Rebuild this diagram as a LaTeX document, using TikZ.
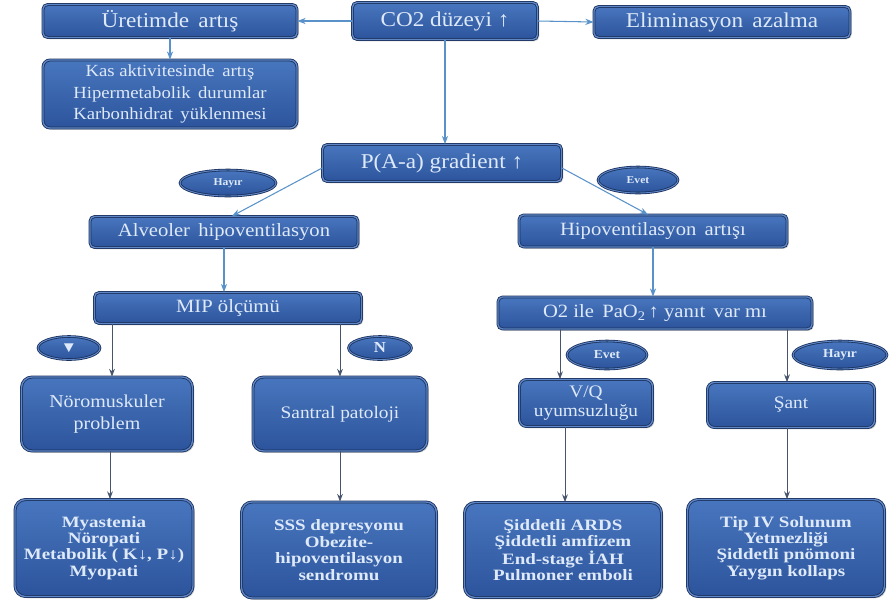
\documentclass[tikz,border=0pt]{standalone}
\usepackage{fontspec}
\setmainfont{Liberation Serif}[FakeStretch=1.1]
\newfontfamily\listfont{Liberation Serif}[FakeStretch=1.2]
\usetikzlibrary{shapes.geometric,calc,shadows,arrows.meta}

\definecolor{boxtop}{RGB}{72,118,190}
\definecolor{boxbot}{RGB}{44,84,156}
\definecolor{boxedge}{RGB}{26,48,92}
\definecolor{boxrim}{RGB}{96,136,200}
\definecolor{boxtext}{RGB}{222,233,249}
\definecolor{linkblue}{RGB}{88,146,200}
\definecolor{linkgray}{RGB}{70,84,108}

\begin{document}
\begin{tikzpicture}[x=0.03cm,y=-0.03cm,>=Stealth,
  box/.style={draw=boxedge,line width=.7pt,double=boxrim,double distance=1.1pt,
    rounded corners=4pt,
    top color=boxtop,bottom color=boxbot,text=boxtext,
    inner sep=0pt,align=center,
    drop shadow={opacity=.35,shadow xshift=1.5pt,shadow yshift=-1.5pt}},
  bigbox/.style={box,rounded corners=9pt},
  tag/.style={ellipse,draw=boxedge,line width=.7pt,double=boxrim,double distance=.8pt,
    inner sep=0pt,
    top color=boxtop,bottom color=boxbot,text=boxtext,
    font=\bfseries\fontsize{9}{10}\selectfont},
  link/.style={->,draw=linkblue,line width=.9pt},
  linkdark/.style={->,draw=linkgray,line width=.8pt}]
  \useasboundingbox (0,0) rectangle (895,603);

  % top row
  \node[box,minimum width=5.55cm,minimum height=1.11cm,
    font=\fontsize{18}{20}\selectfont] (co2) at (445,21) {CO2 düzeyi ↑};
  \node[box,minimum width=7.62cm,minimum height=.99cm,
    font=\fontsize{18}{20}\selectfont] (uret) at (170,21) {Üretimde\, artış};
  \node[box,minimum width=7.68cm,minimum height=.93cm,
    font=\fontsize{18}{20}\selectfont] (elim) at (722,22) {Eliminasyon\, azalma};
  \node[bigbox,rounded corners=6pt,minimum width=7.62cm,minimum height=2.04cm,
    font=\fontsize{14.5}{18.5}\selectfont] (kas) at (170,94)
    {Kas aktivitesinde\, artış\\Hipermetabolik\, durumlar\\Karbonhidrat\, yüklenmesi};

  % gradient
  \node[box,minimum width=7.17cm,minimum height=1.11cm,
    font=\fontsize{18}{20}\selectfont] (grad) at (442,163) {P(A-a) gradient ↑};
  \node[tag,minimum width=2.88cm,minimum height=.78cm] (hayir1) at (228,183) {Hayır};
  \node[tag,minimum width=2.4cm,minimum height=.78cm] (evet1) at (638,180) {Evet};

  \node[box,minimum width=8.04cm,minimum height=.93cm,
    font=\fontsize{16}{18}\selectfont] (alv) at (224,232) {Alveoler\, hipoventilasyon};
  \node[box,minimum width=8.04cm,minimum height=.96cm,
    font=\fontsize{16}{18}\selectfont] (hipo) at (653,231) {Hipoventilasyon\, artışı};
  \node[box,minimum width=8.01cm,minimum height=.93cm,
    font=\fontsize{16}{18}\selectfont] (mip) at (228,308) {MIP ölçümü};
  \node[box,minimum width=9.42cm,minimum height=.96cm,
    font=\fontsize{16}{18}\selectfont] (oksi) at (655,313)
    {O2 ile\, PaO\textsubscript{2}\,↑ yanıt\, var mı};

  % answers
  \node[tag,minimum width=1.86cm,minimum height=.69cm,
    font=\fontsize{13}{14}\selectfont] (azal) at (69,348) {▼};
  \node[tag,minimum width=1.89cm,minimum height=.69cm,
    font=\bfseries\fontsize{13}{14}\selectfont] (norm) at (380,348) {N};
  \node[tag,minimum width=2.4cm,minimum height=.84cm,
    font=\bfseries\fontsize{10.5}{12}\selectfont] (evet2) at (607,355) {Evet};
  \node[tag,minimum width=2.82cm,minimum height=.84cm,
    font=\bfseries\fontsize{10.5}{12}\selectfont] (hayir2) at (840,355) {Hayır};

  % causes
  \node[bigbox,minimum width=5.13cm,minimum height=2.22cm,
    font=\fontsize{15.5}{18.5}\selectfont] (noro) at (107,414) {Nöromuskuler\\problem};
  \node[bigbox,minimum width=5.22cm,minimum height=2.22cm,
    font=\fontsize{15}{18}\selectfont] (santral) at (340,414) {Santral patoloji};
  \node[bigbox,rounded corners=6pt,minimum width=3.99cm,minimum height=1.41cm,
    font=\fontsize{15}{15.5}\selectfont] (vq) at (586,403) {V/Q\\uyumsuzluğu};
  \node[bigbox,rounded corners=6pt,minimum width=5.01cm,minimum height=1.35cm,
    font=\fontsize{15}{16}\selectfont] (sant) at (791,405) {Şant};

  % lists
  \node[bigbox,minimum width=5.34cm,minimum height=2.91cm,
    font=\listfont\bfseries\fontsize{13.5}{14}\selectfont] (myas) at (104,548)
    {Myastenia\\Nöropati\\Metabolik ( K↓, P↓)\\Myopati};
  \node[bigbox,minimum width=5.85cm,minimum height=2.88cm,
    font=\listfont\bfseries\fontsize{13.5}{14}\selectfont] (sss) at (339,550)
    {SSS depresyonu\\Obezite-\\hipoventilasyon\\sendromu};
  \node[bigbox,minimum width=5.91cm,minimum height=2.85cm,
    font=\listfont\bfseries\fontsize{13.5}{14}\selectfont] (ards) at (563,550)
    {Şiddetli ARDS\\Şiddetli amfizem\\End-stage İAH\\Pulmoner emboli};
  \node[bigbox,minimum width=5.91cm,minimum height=2.91cm,
    font=\listfont\bfseries\fontsize{13.5}{14}\selectfont] (tip) at (786,548)
    {Tip IV Solunum\\Yetmezliği\\Şiddetli pnömoni\\Yaygın kollaps};

  % connector ends
  \coordinate (noroin) at ($(noro.north)+(5,0)$);
  \coordinate (vqin) at ($(vq.north)+(-26,0)$);
  \coordinate (santin) at ($(sant.north)+(-4,0)$);
  \coordinate (noroout) at ($(noro.south)+(3,0)$);
  \coordinate (vqout) at ($(vq.south)+(-21,0)$);
  \coordinate (santout) at ($(sant.south)+(-4,0)$);

  % connectors
  \draw[link] (co2.west) -- (uret.east);
  \draw[link] (co2.east) -- (elim.west);
  \draw[link] (co2.south) -- (co2.south |- grad.north);
  \draw[link] (uret.south) -- (kas.north);
  \draw[link] ($(grad.west)+(0,5)$) -- ($(alv.north)+(8,0)$);
  \draw[link] ($(grad.east)+(0,5)$) -- ($(hipo.north)+(-5,0)$);
  \draw[link] (alv.south) -- (alv.south |- mip.north);
  \draw[link] (hipo.south) -- (hipo.south |- oksi.north);

  \draw[linkdark] (noroin |- mip.south) -- (noroin);
  \draw[linkdark] (santral.north |- mip.south) -- (santral.north);
  \draw[linkdark] (vqin |- oksi.south) -- (vqin);
  \draw[linkdark] (santin |- oksi.south) -- (santin);

  \draw[linkdark] (noroout) -- (noroout |- myas.north);
  \draw[linkdark] (santral.south) -- (santral.south |- sss.north);
  \draw[linkdark] (vqout) -- (vqout |- ards.north);
  \draw[linkdark] (santout) -- (santout |- tip.north);
\end{tikzpicture}
\end{document}
